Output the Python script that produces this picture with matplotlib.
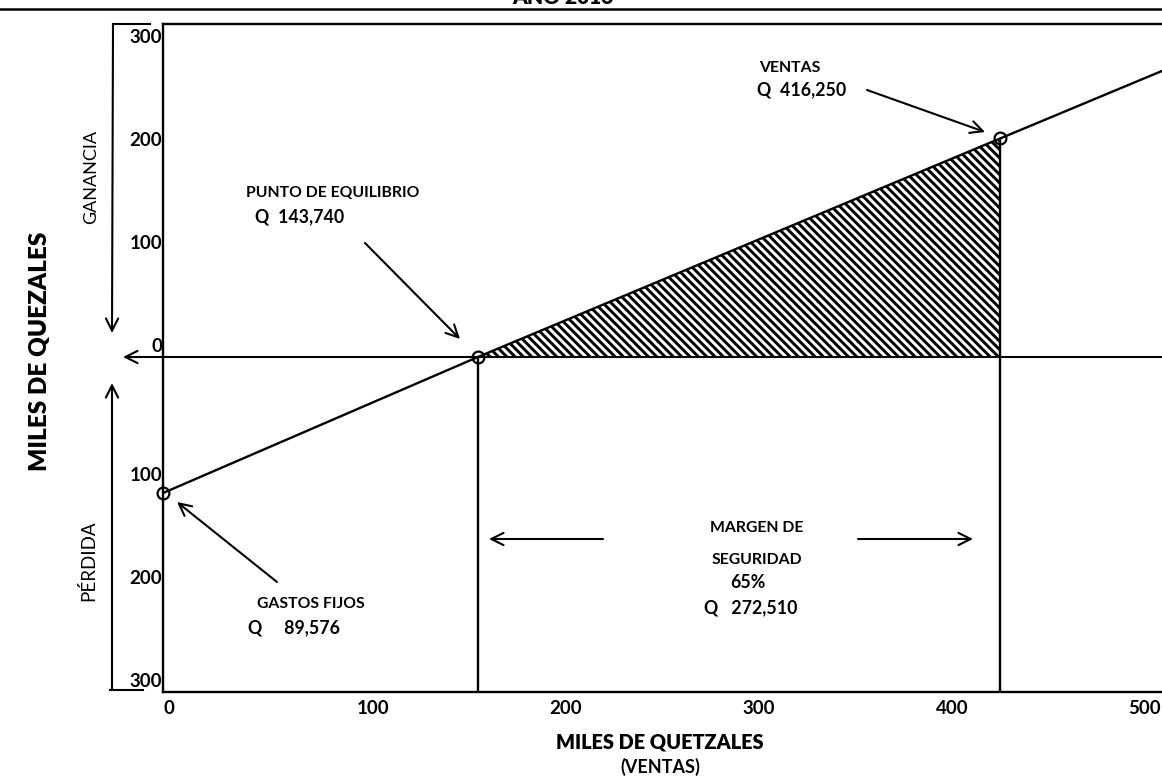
import numpy as np
import matplotlib.pyplot as plt
from matplotlib.lines import Line2D
from matplotlib.transforms import ScaledTranslation

# ---------- values (thousands of quetzales, chart scale) ----------
x_ticks = [0, 100, 200, 300, 400, 500]
y_ticks = [300, 200, 100, 0, -100, -200, -300]
y_tick_labels = ["300", "200", "100", "0", "100", "200", "300"]

# sales / result line: fixed cost point, break-even, actual sales, continuation
line_x = [-8.8, 154.4, 425.0, 530.0]
line_y = [-132.0, 0.0, 212.0, 294.0]

fixed_cost = (-8.8, -132.0)
break_even = (154.4, 0.0)
sales = (425.0, 212.0)

XLIM = (-8.8, 530)
YLIM = (-325, 323)

# ---------- figure ----------
W, H = 1162, 777
plt.rcParams.update({
    "font.family": ["Lato", "DejaVu Sans"],
    "font.size": 12,
    "hatch.linewidth": 2.1,
})


def fp(x, y):
    # pixel position (from top-left) -> figure fraction
    return x / W, 1 - y / H


fig = plt.figure(figsize=(W / 100, H / 100), dpi=100)
ax_left, ax_top, ax_bottom = 163, 24, 692
ax_right = 163 + (XLIM[1] - XLIM[0]) * 1.93
ax = fig.add_axes([ax_left / W, 1 - ax_bottom / H,
                   (ax_right - ax_left) / W, (ax_bottom - ax_top) / H])
ax.set_xlim(*XLIM)
ax.set_ylim(*YLIM)

for s in ["left", "top", "bottom"]:
    ax.spines[s].set_linewidth(1.7)
ax.spines["right"].set_visible(False)

# ---------- marks ----------
ax.plot(line_x, line_y, color="black", lw=1.7, zorder=3)
ax.axhline(0, color="black", lw=1.5, zorder=2)

fx = np.linspace(break_even[0], sales[0], 50)
fy = np.interp(fx, line_x, line_y)
ax.fill_between(fx, 0, fy, facecolor="white", edgecolor="black",
                hatch="\\\\\\\\", linewidth=0, zorder=1)

ax.vlines([break_even[0], sales[0]], YLIM[0], [break_even[1], sales[1]],
          color="black", lw=1.7, zorder=3)

pts = [fixed_cost, break_even, sales]
ax.plot([p[0] for p in pts], [p[1] for p in pts], "o", ms=8.5,
        mfc="none", mec="black", mew=1.6, zorder=4, clip_on=False)

# ---------- ticks ----------
ax.set_xticks(x_ticks)
ax.set_xticklabels([str(v) for v in x_ticks], fontweight="bold", fontsize=13.5)
ax.tick_params(axis="x", length=0, pad=6)
ax.xaxis.get_majorticklabels()[0].set_transform(
    ax.xaxis.get_majorticklabels()[0].get_transform()
    + ScaledTranslation(-0.11, 0, fig.dpi_scale_trans))
ax.set_yticks([])

ytr = ax.get_yaxis_transform()
for v, lab in zip(y_ticks, y_tick_labels):
    dy = 0.10 if v >= 0 else -0.15
    ax.text(-0.001, v, lab, ha="right", va="center", fontweight="bold",
            fontsize=13.5,
            transform=ytr + ScaledTranslation(0, dy, fig.dpi_scale_trans))

# ---------- axis titles ----------
fig.text(*fp(660, 742), "MILES DE QUETZALES", ha="center", va="center",
         fontweight="heavy", fontsize=14.3)
fig.text(*fp(660, 767), "(VENTAS)", ha="center", va="center",
         fontweight="bold", fontsize=13)
fig.text(*fp(40, 351), "MILES DE QUEZALES", ha="center", va="center",
         rotation=90, fontweight="heavy", fontsize=17.5)
fig.text(*fp(563, -3), "AÑO 2016", ha="center", va="center",
         fontweight="heavy", fontsize=15)
fig.add_artist(Line2D([0, 1], [1 - 9 / H] * 2, color="black", lw=1.8))

# ---------- gain / loss brackets ----------
fig.text(*fp(91, 177), "GANANCIA", ha="center", va="center", rotation=90,
         fontsize=13)
fig.text(*fp(88, 561), "PÉRDIDA", ha="center", va="center", rotation=90,
         fontsize=13.5)

arrow = dict(arrowstyle="->", lw=1.5, color="black", mutation_scale=22,
             shrinkA=0, shrinkB=0)


def fig_arrow(tail, tip):
    ax.annotate("", xy=fp(*tip), xytext=fp(*tail), xycoords="figure fraction",
                textcoords="figure fraction", arrowprops=arrow,
                annotation_clip=False)


def fig_line(p0, p1):
    a, b = fp(*p0), fp(*p1)
    fig.add_artist(Line2D([a[0], b[0]], [a[1], b[1]], color="black", lw=1.5))


fig_line((113, 24), (150, 24))
fig_arrow((113, 24), (112, 333))
fig_line((110, 690), (143, 690))
fig_arrow((112, 690), (112, 383))
fig_arrow((163, 357), (123, 357))

# ---------- annotations ----------
note = dict(fontweight="bold", fontsize=11.3, va="center")
value = dict(fontweight="bold", fontsize=12.8, va="center")
fig.text(*fp(246, 193), "PUNTO DE EQUILIBRIO", ha="left", **note)
fig.text(*fp(255, 217), "Q  143,740", ha="left", **value)
fig_arrow((365, 243), (460, 339))

fig.text(*fp(790, 68), "VENTAS", ha="center", **note)
fig.text(*fp(757, 90), "Q  416,250", ha="left", **value)
fig_arrow((867, 90), (985, 132))

fig.text(*fp(311, 604), "GASTOS FIJOS", ha="center", **note)
fig.text(*fp(248, 628), "Q     89,576", ha="left", **value)
fig_arrow((277, 582), (177, 502))

fig.text(*fp(757, 528), "MARGEN DE", ha="center", **note)
fig.text(*fp(757, 560), "SEGURIDAD", ha="center", **note)
fig.text(*fp(748, 583), "65%", ha="center", **value)
fig.text(*fp(751, 608), "Q   272,510", ha="center", **value)
fig_arrow((603, 539), (489, 539))
fig_arrow((858, 539), (973, 539))

fig.savefig("out.png", dpi=100)
